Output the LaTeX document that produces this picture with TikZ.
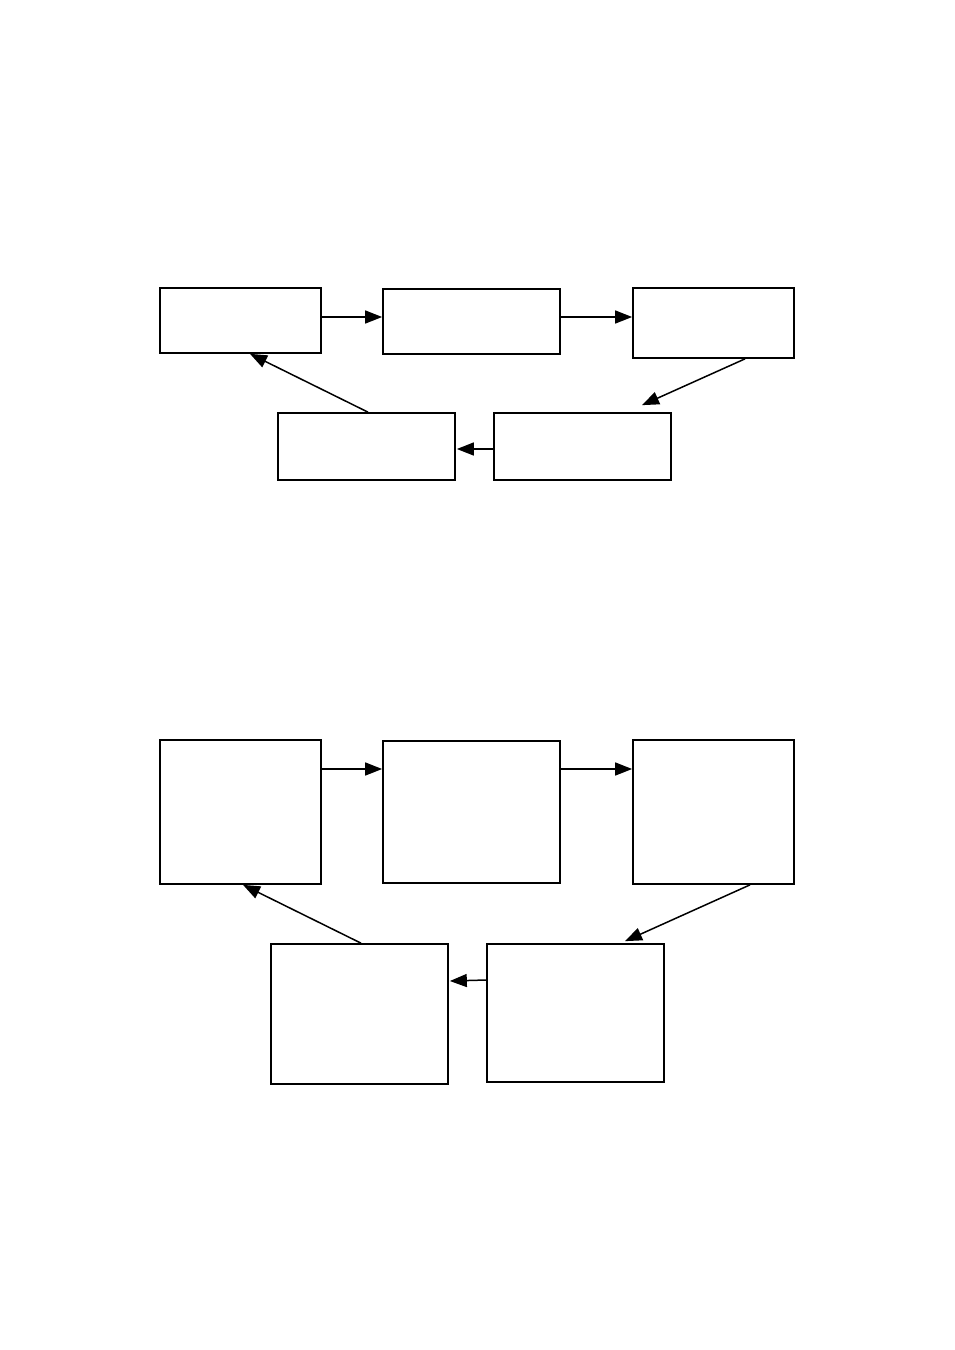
\documentclass[tikz,border=0pt]{standalone}
\usetikzlibrary{arrows.meta}
\begin{document}
\begin{tikzpicture}[x=1pt,y=-1pt,
  boxnode/.style={draw=black,line width=1.7pt,fill=white,inner sep=0pt,rectangle},
  conn/.style={line width=1.5pt,-{Triangle[length=17pt,width=13pt]}}]
\useasboundingbox (0,0) rectangle (954,1350);
% top diagram
\node[boxnode,minimum width=161pt,minimum height=65pt] (A) at (240.5,320.5) {};
\node[boxnode,minimum width=177pt,minimum height=65pt] (B) at (471.5,321.5) {};
\node[boxnode,minimum width=161pt,minimum height=70pt] (C) at (713.5,323) {};
\node[boxnode,minimum width=177pt,minimum height=67pt] (D) at (582.5,446.5) {};
\node[boxnode,minimum width=177pt,minimum height=67pt] (E) at (366.5,446.5) {};
\draw[conn] ([yshift=3.5pt]A.east) -- ([yshift=4.5pt]B.west);
\draw[conn] ([yshift=4.5pt]B.east) -- ([yshift=6pt]C.west);
\draw[conn] ([xshift=31.5pt]C.south) -- ([xshift=59.5pt,yshift=7pt]D.north);
\draw[conn] ([yshift=-2.5pt]D.west) -- ([xshift=1pt,yshift=-2.5pt]E.east);
\draw[conn] ([xshift=1.5pt]E.north) -- ([xshift=9.5pt]A.south);
% bottom diagram
\node[boxnode,minimum width=161pt,minimum height=144pt] (A2) at (240.5,812) {};
\node[boxnode,minimum width=177pt,minimum height=142pt] (B2) at (471.5,812) {};
\node[boxnode,minimum width=161pt,minimum height=144pt] (C2) at (713.5,812) {};
\node[boxnode,minimum width=177pt,minimum height=138pt] (D2) at (575.5,1013) {};
\node[boxnode,minimum width=177pt,minimum height=140pt] (E2) at (359.5,1014) {};
\draw[conn] ([yshift=43pt]A2.east) -- ([yshift=43pt]B2.west);
\draw[conn] ([yshift=43pt]B2.east) -- ([yshift=43pt]C2.west);
\draw[conn] ([xshift=36.5pt]C2.south) -- ([xshift=49.5pt,yshift=2pt]D2.north);
\draw[conn] ([yshift=33pt]D2.west) -- ([xshift=1pt,yshift=33pt]E2.east);
\draw[conn] ([xshift=1.5pt]E2.north) -- ([xshift=2.5pt]A2.south);
\end{tikzpicture}
\end{document}
